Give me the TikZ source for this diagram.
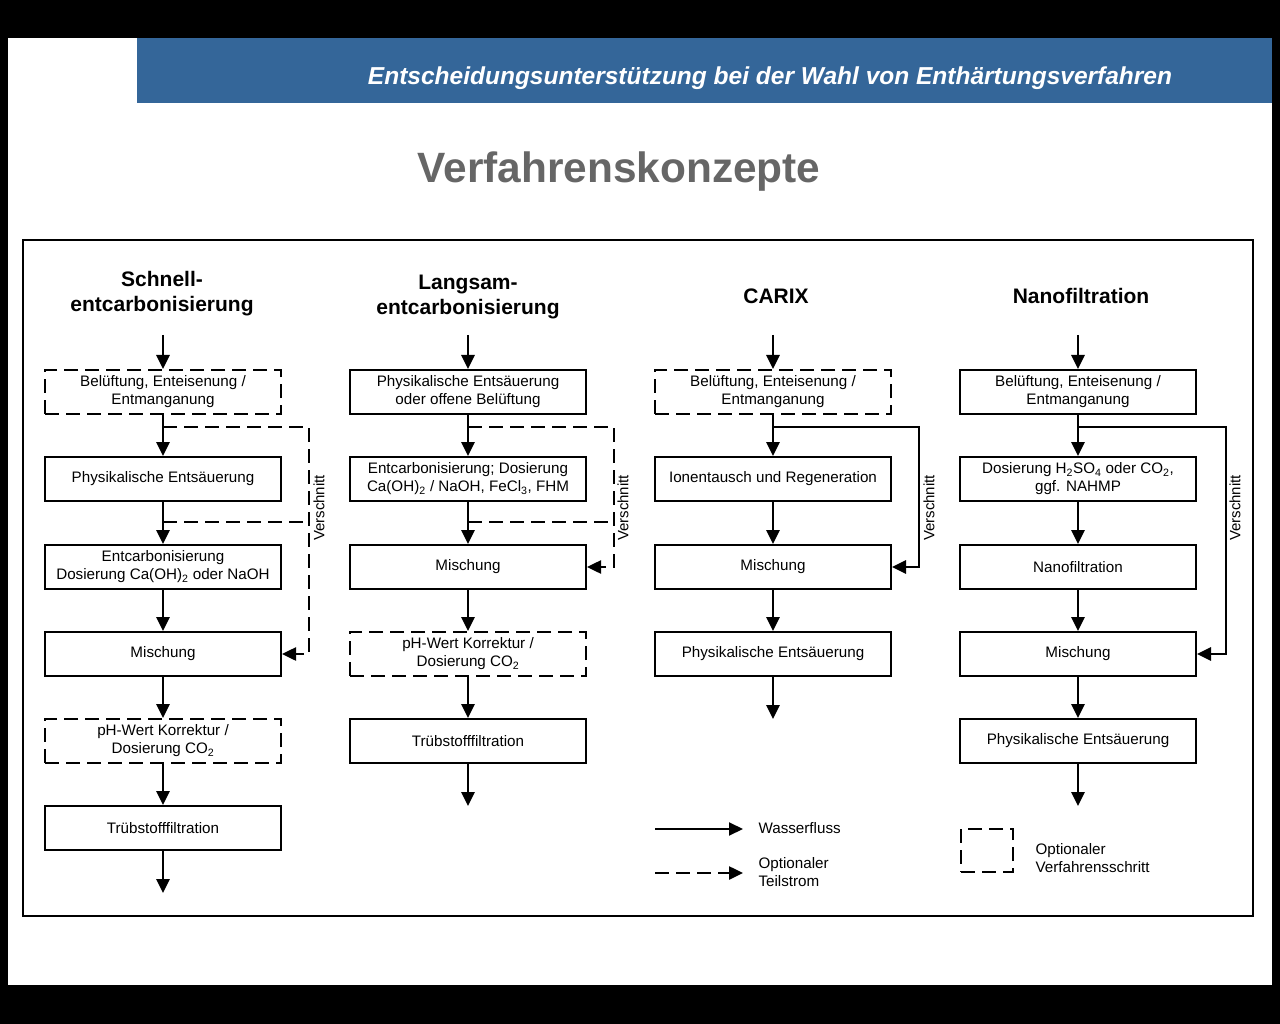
\documentclass[tikz,border=0pt]{standalone}
\usepackage{fontspec}
\setmainfont{Liberation Sans}
\usetikzlibrary{arrows.meta,calc}
\definecolor{hdrblue}{RGB}{52,102,153}
\definecolor{titlegray}{RGB}{102,102,102}
\begin{document}
\begin{tikzpicture}[x=1pt,y=-1pt,
  box/.style={draw,line width=2pt,minimum width=236pt,minimum height=44pt,inner sep=0pt,align=center,font=\fontsize{15.2}{18}\selectfont},
  optbox/.style={box,dash pattern=on 14pt off 7pt},
  tip/.style={-{Triangle[width=13pt,length=14pt]}},
  flow/.style={line width=2.7pt,tip},
  partflow/.style={line width=2.5pt,dash pattern=on 14pt off 7pt,tip},
  partline/.style={line width=2.5pt,dash pattern=on 14pt off 7pt},
  head/.style={font=\fontsize{21}{25}\selectfont\bfseries,align=center},
  vlabel/.style={rotate=90,font=\fontsize{15}{16}\selectfont},
  legtext/.style={anchor=west,align=left,font=\fontsize{15.2}{18}\selectfont},
]
\useasboundingbox (0,0) rectangle (1280,1024);
\fill[black] (0,0) rectangle (1280,1024);
\fill[white] (8,38) rectangle (1272,985);
\fill[hdrblue] (137,38) rectangle (1272,103);
\node[text=white,font=\fontsize{24.5}{28}\selectfont\bfseries\itshape] (hdr) at (770,78) {Entscheidungsunterstützung bei der Wahl von Enthärtungsverfahren};
\node[text=titlegray,font=\fontsize{42.4}{46}\selectfont\bfseries] (title) at (619,172) {Verfahrenskonzepte};
\draw[line width=2pt] (23,240) rectangle (1253,916);

% headings
\node[head] (h1) at (162,294) {Schnell-\\entcarbonisierung};
\node[head] (h2) at (468,297) {Langsam-\\entcarbonisierung};
\node[head] (h3) at (776,296) {CARIX};
\node[head] (h4) at (1081,296) {Nanofiltration};

% column 1
\coordinate (s0) at (163,335);
\node[optbox] (s1) at (163,392) {Belüftung, Enteisenung /\\Entmanganung};
\node[box] (s2) at (163,479) {Physikalische Entsäuerung};
\node[box] (s3) at (163,567) {Entcarbonisierung\\Dosierung Ca(OH)\textsubscript{2} oder NaOH};
\node[box] (s4) at (163,654) {Mischung};
\node[optbox] (s5) at (163,741) {pH-Wert Korrektur /\\Dosierung CO\textsubscript{2}};
\node[box] (s6) at (163,828) {Trübstofffiltration};
\coordinate (s7) at (163,893);
\draw[flow] (s0) -- (s1);
\draw[flow] (s1) -- (s2);
\draw[flow] (s2) -- (s3);
\draw[flow] (s3) -- (s4);
\draw[flow] (s4) -- (s5);
\draw[flow] (s5) -- (s6);
\draw[flow] (s6) -- (s7);
\coordinate (sb1) at (163,427);
\coordinate (sb2) at (163,522);
\coordinate (sj2) at (308,522);
\draw[partflow] (sb1) -| ($(s4.east)+(27,0)$) -- (s4.east);
\draw[partline] (sb2) -- (sj2);
\node[vlabel] (sv) at (319,508) {Verschnitt};

% column 2
\coordinate (p0) at (468,335);
\node[box] (p1) at (468,392) {Physikalische Entsäuerung\\oder offene Belüftung};
\node[box] (p2) at (468,479) {Entcarbonisierung; Dosierung\\Ca(OH)\textsubscript{2} / NaOH, FeCl\textsubscript{3}, FHM};
\node[box] (p3) at (468,567) {Mischung};
\node[optbox] (p4) at (468,654) {pH-Wert Korrektur /\\Dosierung CO\textsubscript{2}};
\node[box] (p5) at (468,741) {Trübstofffiltration};
\coordinate (p6) at (468,806);
\draw[flow] (p0) -- (p1);
\draw[flow] (p1) -- (p2);
\draw[flow] (p2) -- (p3);
\draw[flow] (p3) -- (p4);
\draw[flow] (p4) -- (p5);
\draw[flow] (p5) -- (p6);
\coordinate (pb1) at (468,427);
\coordinate (pb2) at (468,522);
\coordinate (pj2) at (613,522);
\draw[partflow] (pb1) -| ($(p3.east)+(27,0)$) -- (p3.east);
\draw[partline] (pb2) -- (pj2);
\node[vlabel] (pv) at (623,508) {Verschnitt};

% column 3
\coordinate (c0) at (773,335);
\node[optbox] (c1) at (773,392) {Belüftung, Enteisenung /\\Entmanganung};
\node[box] (c2) at (773,479) {Ionentausch und Regeneration};
\node[box] (c3) at (773,567) {Mischung};
\node[box] (c4) at (773,654) {Physikalische Entsäuerung};
\coordinate (c5) at (773,719);
\draw[flow] (c0) -- (c1);
\draw[flow] (c1) -- (c2);
\draw[flow] (c2) -- (c3);
\draw[flow] (c3) -- (c4);
\draw[flow] (c4) -- (c5);
\coordinate (cb1) at (773,427);
\draw[flow] (cb1) -| ($(c3.east)+(27,0)$) -- (c3.east);
\node[vlabel] (cv) at (929,508) {Verschnitt};

% column 4
\coordinate (n0) at (1078,335);
\node[box] (n1) at (1078,392) {Belüftung, Enteisenung /\\Entmanganung};
\node[box] (n2) at (1078,479) {Dosierung H\textsubscript{2}SO\textsubscript{4} oder CO\textsubscript{2},\\ggf. NAHMP};
\node[box] (n3) at (1078,567) {Nanofiltration};
\node[box] (n4) at (1078,654) {Mischung};
\node[box] (n5) at (1078,741) {Physikalische Entsäuerung};
\coordinate (n6) at (1078,806);
\draw[flow] (n0) -- (n1);
\draw[flow] (n1) -- (n2);
\draw[flow] (n2) -- (n3);
\draw[flow] (n3) -- (n4);
\draw[flow] (n4) -- (n5);
\draw[flow] (n5) -- (n6);
\coordinate (nb1) at (1078,427);
\draw[flow] (nb1) -| ($(n4.east)+(29,0)$) -- (n4.east);
\node[vlabel] (nv) at (1235,508) {Verschnitt};

% legend
\coordinate (la0) at (655,829);
\coordinate (la1) at (743,829);
\draw[line width=2pt,tip] (la0) -- (la1);
\node[legtext] (lat) at (755,828) {Wasserfluss};
\coordinate (lb0) at (655,873);
\coordinate (lb1) at (743,873);
\draw[line width=2.5pt,dash pattern=on 14pt off 7pt,tip] (lb0) -- (lb1);
\node[legtext] (lbt) at (755,872) {Optionaler\\Teilstrom};
\node[draw,line width=2pt,dash pattern=on 14pt off 7pt,minimum width=52pt,minimum height=43pt,inner sep=0pt] (lc) at (987,850.5) {};
\node[legtext] (lct) at (1032,858) {Optionaler\\Verfahrensschritt};
\end{tikzpicture}
\end{document}
